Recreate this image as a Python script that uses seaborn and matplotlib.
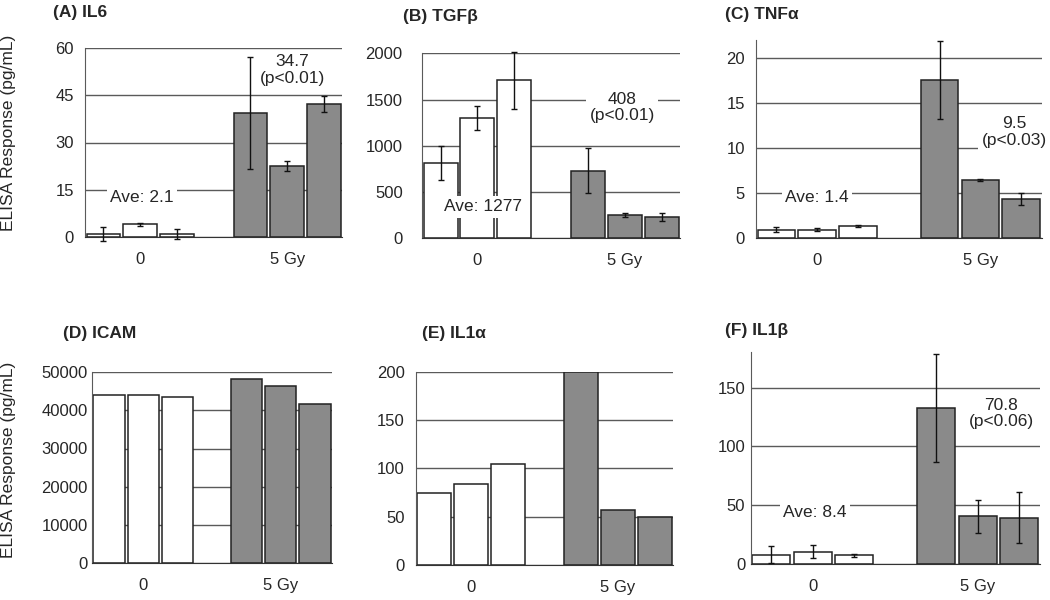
import matplotlib
matplotlib.use('Agg')
import matplotlib.pyplot as plt
import pandas as pd
import seaborn as sns

sns.set_style('white')
plt.rcParams['font.family'] = ['Liberation Sans', 'DejaVu Sans']

# bar slots: 3 sham samples, an empty gap, 3 irradiated samples
slots = ['c1', 'c2', 'c3', 'gap', 'r1', 'r2', 'r3']
bar_slots = ['c1', 'c2', 'c3', 'r1', 'r2', 'r3']
doses = ['0', '0', '0', '5 Gy', '5 Gy', '5 Gy']
dose_labels = ['0', '5 Gy']

il6 = [1.0, 4.0, 1.0, 39.5, 22.5, 42.2]
il6_err = [2.3, 0.4, 1.6, 17.8, 1.7, 2.6]
tgfb = [818, 1305, 1708, 732, 252, 230]
tgfb_err = [185, 130, 308, 243, 20, 45]
tnfa = [0.95, 0.95, 1.33, 17.6, 6.48, 4.37]
tnfa_err = [0.3, 0.2, 0.1, 4.35, 0.12, 0.63]
icam = [43900, 44150, 43370, 48250, 46250, 41540]
il1a = [75, 84, 104.5, 200, 57, 49.3]
il1b = [7.9, 10.6, 7.3, 132.6, 40.6, 39.5]
il1b_err = [7.0, 5.6, 1.5, 46, 14, 22]

panels = [
    # title, values, errors, yticks, ylim, axes rect, ytick pad
    ('(A) IL6', il6, il6_err, [0, 15, 30, 45, 60], 60, [0.081, 0.605, 0.245, 0.315], 8),
    ('(B) TGFβ', tgfb, tgfb_err, [0, 500, 1000, 1500, 2000], 2000, [0.402, 0.603, 0.246, 0.308], 14),
    ('(C) TNFα', tnfa, tnfa_err, [0, 5, 10, 15, 20], 22, [0.72, 0.603, 0.272, 0.33], 8),
    ('(D) ICAM', icam, None, [0, 10000, 20000, 30000, 40000, 50000], 50000, [0.0876, 0.0617, 0.2286, 0.318], 3),
    ('(E) IL1α', il1a, None, [0, 50, 100, 150, 200], 200, [0.396, 0.0583, 0.245, 0.322], 8),
    ('(F) IL1β', il1b, il1b_err, [0, 50, 100, 150], 180, [0.715, 0.06, 0.275, 0.353], 4),
]
title_pos = [(53, 12), (403, 17), (725, 15), (63, 333), (422, 333), (725, 330)]

# annotation texts: (text, x, y) per panel
notes = [
    [('Ave: 2.1', 1.05, 12.4), ('34.7\n(p<0.01)', 5.14, 53.0)],
    [('Ave: 1277', 1.15, 342), ('408\n(p<0.01)', 4.92, 1416)],
    [('Ave: 1.4', 0.99, 4.5), ('9.5\n(p<0.03)', 5.83, 11.8)],
    [],
    [],
    [('Ave: 8.4', 1.06, 43.7), ('70.8\n(p<0.06)', 5.57, 128)],
]

fig = plt.figure(figsize=(10.5, 6), dpi=100)

for (title, vals, errs, yticks, ytop, rect, pad), (tx, ty), panel_notes in zip(panels, title_pos, notes):
    ax = fig.add_axes(rect)
    df = pd.DataFrame({'slot': bar_slots, 'value': vals, 'dose': doses})
    sns.barplot(data=df, x='slot', y='value', hue='dose', order=slots,
                hue_order=dose_labels, palette={'0': 'white', '5 Gy': '#8a8a8a'},
                dodge=False, width=0.92, edgecolor='#222222', linewidth=1.1,
                errorbar=None, legend=False, ax=ax)
    if errs is not None:
        xs = [slots.index(s) for s in bar_slots]
        ax.errorbar(xs, vals, yerr=errs, fmt='none', ecolor='#111111',
                    elinewidth=1, capsize=2, capthick=1, zorder=7, clip_on=False)
    ax.set_axisbelow(True)
    ax.set_xlim(-0.5, len(slots) - 0.5)
    ax.set_ylim(0, ytop)
    ax.set_yticks(yticks)
    ax.yaxis.grid(True, color='#5a5a5a', linewidth=1)
    ax.xaxis.grid(False)
    ax.set_xticks([1, 5])
    ax.set_xticklabels(dose_labels)
    ax.tick_params(axis='x', length=0, pad=11, labelsize=12)
    ax.tick_params(axis='y', length=0, pad=pad, labelsize=12)
    ax.set_xlabel('')
    ax.set_ylabel('')
    for s in ['top', 'right']:
        ax.spines[s].set_visible(False)
    ax.spines['left'].set_color('#5a5a5a')
    ax.spines['bottom'].set_color('#333333')
    for text, x, y in panel_notes:
        ax.text(x, y, text, ha='center', va='center', fontsize=12.5, zorder=6,
                linespacing=1.1,
                bbox=dict(boxstyle='square,pad=0.2', facecolor='white', edgecolor='none'))
    fig.text(tx / 1050, 1 - ty / 600, title, fontsize=12.5, fontweight='bold',
             ha='left', va='center')

fig.text(9 / 1050, 1 - 133 / 600, 'ELISA Response (pg/mL)', rotation=90,
         ha='center', va='center', fontsize=12.5)
fig.text(9 / 1050, 1 - 460 / 600, 'ELISA Response (pg/mL)', rotation=90,
         ha='center', va='center', fontsize=12.5)

fig.savefig('out.png', dpi=100)
